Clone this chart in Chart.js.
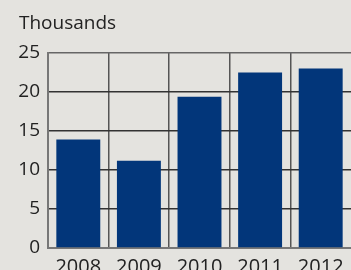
<!DOCTYPE html>
<html>
<head>
<meta charset="utf-8">
<script src="https://cdn.jsdelivr.net/npm/chart.js@4"></script>
<style>
    html, body { margin: 0; padding: 0; background: #e4e3df; }
    #wrap { width: 351px; height: 270px; }
</style>
</head>
<body>
<div id="wrap"><canvas id="chartBarras"></canvas></div>
<script>
// Datos
const years = ['2008', '2009', '2010', '2011', '2012'];
const values = [13.9, 11.2, 19.4, 22.5, 23.0];
const yTicks = [0, 5, 10, 15, 20, 25];
const unitLabel = 'Thousands';
const colorFondo = '#e4e3df';

const fondo = {
    id: 'fondo',
    beforeDraw(chart) {
        const c = chart.ctx;
        c.save();
        c.fillStyle = colorFondo;
        c.fillRect(0, 0, chart.width, chart.height);
        c.restore();
    },
    afterDraw(chart) {
        const c = chart.ctx;
        c.save();
        c.font = '19px "Open Sans"';
        c.fillStyle = '#222';
        c.textBaseline = 'alphabetic';
        c.fillText(unitLabel, 19, 29);
        c.restore();
    }
};

new Chart(document.getElementById('chartBarras'), {
    type: 'bar',
    data: {
        labels: years,
        datasets: [{
            data: values,
            backgroundColor: '#02367a',
            barPercentage: 0.725,
            categoryPercentage: 1
        }]
    },
    options: {
        responsive: true,
        maintainAspectRatio: false,
        animation: false,
        layout: { padding: { top: 53, left: 0, right: 0, bottom: 0 } },
        plugins: { legend: { display: false }, tooltip: { enabled: false } },
        scales: {
            x: {
                afterFit: s => { s.height = 22; },
                grid: {
                    offset: true,
                    lineWidth: 1.5,
                    drawTicks: false,
                    // la última línea (borde derecho) no se ve en el original
                    color: ctx => ctx.type === 'tick' ? '#555' : colorFondo
                },
                border: { color: '#777', width: 2 },
                ticks: { font: { family: 'Open Sans', size: 20 }, color: '#222', padding: 7 }
            },
            y: {
                min: 0, max: 25,
                afterFit: s => { s.width = 48; },
                afterBuildTicks: s => { s.ticks = yTicks.map(v => ({ value: v })); },
                grid: {
                    drawTicks: false,
                    lineWidth: 1.5,
                    color: ctx => ctx.tick && ctx.tick.value === 25 ? '#666' : '#333'
                },
                border: { color: '#777', width: 2 },
                ticks: { font: { family: 'Open Sans', size: 19 }, color: '#222', padding: 8 }
            }
        }
    },
    plugins: [fondo]
});
</script>
</body>
</html>
